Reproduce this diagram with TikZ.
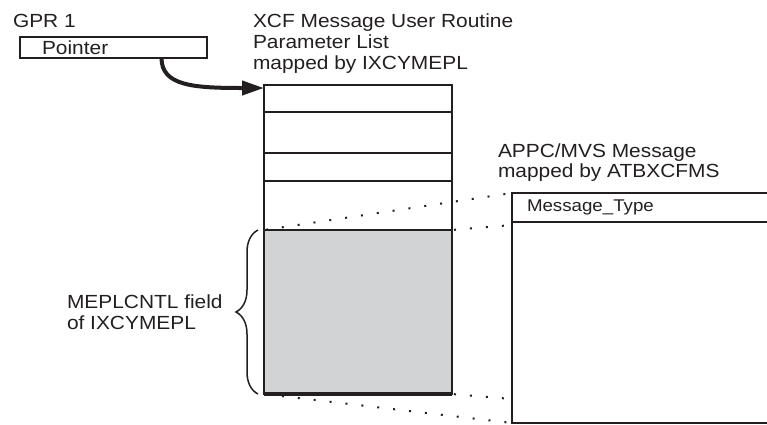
\documentclass[tikz,border=0pt]{standalone}
\usepackage{fontspec}
\setmainfont[FakeStretch=1.1]{Liberation Sans}
\usetikzlibrary{arrows.meta,decorations.pathreplacing}
\definecolor{ink}{RGB}{35,31,32}
\definecolor{fieldgray}{RGB}{209,211,212}

\begin{document}
\begin{tikzpicture}[x=1pt, y=-1pt, line width=2pt, color=ink,
    txt/.style={inner sep=0, font=\fontsize{19}{21}\selectfont, align=left},
    row/.style={draw, anchor=north west, outer sep=0, inner sep=0, minimum width=188pt},
    dots/.style={line width=2pt, dash pattern=on 2pt off 14pt, dash phase=-2pt}]
    \clip (0,0) rectangle (767,424);
    % Nodes
    \node[txt, anchor=base west] (gpr) at (12,27) {GPR 1};
    \node[draw, anchor=north west, outer sep=0, inner ysep=0, inner xsep=22pt, minimum height=21pt,
          text width=143pt, font=\fontsize{19}{21}\selectfont] (ptr) at (20,37) {Pointer};
    \node[txt, anchor=north west] (title) at (252,13) {XCF Message User Routine\\Parameter List\\mapped by IXCYMEPL};
    \node[row, minimum height=27pt] (r1) at (264,85) {};
    \node[row, minimum height=41pt] (r2) at (r1.south west) {};
    \node[row, minimum height=28pt] (r3) at (r2.south west) {};
    \node[row, minimum height=49pt] (r4) at (r3.south west) {};
    \node[row, fill=fieldgray, minimum height=164pt] (field) at (r4.south west) {};
    \node[txt, anchor=north west] (fieldname) at (66,294) {MEPLCNTL field\\of IXCYMEPL};
    \node[txt, anchor=north west, font=\fontsize{19}{20}\selectfont] (appc) at (497,143) {APPC/MVS Message\\mapped by ATBXCFMS};
    \node[draw, anchor=north west, outer sep=0, inner ysep=0, inner xsep=15pt, minimum height=29pt,
          text width=300pt, font=\fontsize{17}{21}\selectfont] (msghead) at (512,193) {Message\_Type};
    \node[draw, anchor=north west, outer sep=0, minimum width=330pt, minimum height=201pt] (msgbody) at (msghead.south west) {};
    % Connectors
    \draw[line width=3.5pt] (field.south west) -- (field.south east);
    \draw[line width=4pt, -{Triangle[length=22pt, width=14pt]}] ([xshift=48pt]ptr.south)
        .. controls +(0,28) and +(-70,0) .. ([yshift=-3pt]r1.north west);
    \draw[line width=1.5pt, decorate, decoration={brace, amplitude=22pt}]
        ([xshift=-6pt]field.south west) -- ([xshift=-6pt]field.north west);
    \draw[dots] (field.north west) -- (msghead.north west);
    \draw[dots] (field.north east) -- ([yshift=-3pt]msghead.south west);
    \draw[dots] (field.south west) -- (msgbody.south west);
    \draw[dots] (field.south east) -- ([yshift=24pt]msgbody.south west);
\end{tikzpicture}
\end{document}
